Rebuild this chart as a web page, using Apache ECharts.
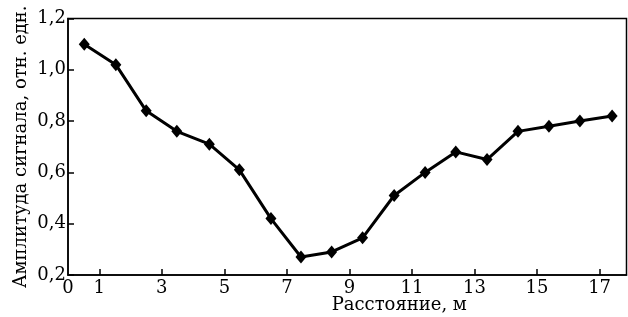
<!DOCTYPE html>
<html>
<head>
<meta charset="utf-8">
<script src="https://cdn.jsdelivr.net/npm/echarts@6/dist/echarts.min.js"></script>
<style>
  html, body { margin: 0; padding: 0; background: #fff; }
  #chart { width: 628px; height: 317px; }
</style>
</head>
<body>
<div id="chart"></div>
<script>
// distance, m
const distance = [0.52, 1.53, 2.5, 3.48, 4.52, 5.48, 6.49, 7.45, 8.43, 9.42,
  10.43, 11.42, 12.4, 13.4, 14.39, 15.38, 16.37, 17.4];
// signal amplitude, rel. units
const amplitude = [1.10, 1.02, 0.84, 0.76, 0.71, 0.61, 0.42, 0.27, 0.29, 0.345,
  0.51, 0.60, 0.68, 0.65, 0.76, 0.78, 0.80, 0.82];
const xLabelValues = [0, 1, 3, 5, 7, 9, 11, 13, 15, 17];
const xTickValues = [1, 3, 5, 7, 9, 11, 13, 15, 17];

const font = "DejaVu Serif";
const chart = echarts.init(document.getElementById("chart"));

chart.setOption({
  animation: false,
  grid: {
    left: 68,
    right: 1.5,
    top: 18.5,
    bottom: 42,
    outerBoundsMode: "none",
    containLabel: false,
    show: true,
    borderColor: "#000",
    borderWidth: 1.5,
    backgroundColor: "transparent",
  },
  xAxis: {
    type: "value",
    min: 0,
    max: 17.86,
    interval: 1,
    name: "Расстояние, м",
    nameLocation: "middle",
    nameGap: 21,
    nameMoveOverlap: false,
    nameTextStyle: { fontFamily: font, fontSize: 18, color: "#000", padding: [0, 0, 0, 104] },
    axisLine: { show: true, lineStyle: { color: "#000", width: 1.5 } },
    axisTick: {
      show: true,
      inside: true,
      length: 6,
      customValues: xTickValues,
      lineStyle: { color: "#000", width: 1.5 },
    },
    axisLabel: {
      customValues: xLabelValues,
      fontFamily: font,
      fontSize: 18,
      color: "#000",
      margin: 4,
      hideOverlap: false,
    },
    splitLine: { show: false },
  },
  yAxis: {
    type: "value",
    min: 0.2,
    max: 1.2,
    interval: 0.2,
    name: "Амплитуда сигнала, отн. едн.",
    nameLocation: "middle",
    nameGap: 38,
    nameMoveOverlap: false,
    nameTextStyle: { fontFamily: font, fontSize: 18, color: "#000" },
    axisLine: { show: true, lineStyle: { color: "#000", width: 1.5 } },
    axisTick: { show: true, inside: true, length: 6, lineStyle: { color: "#000", width: 1.5 } },
    axisLabel: {
      fontFamily: font,
      fontSize: 18,
      color: "#000",
      margin: 2,
      formatter: (v) => v.toFixed(1).replace(".", ","),
    },
    splitLine: { show: false },
  },
  series: [
    {
      type: "line",
      data: distance.map((d, i) => [d, amplitude[i]]),
      symbol: "diamond",
      symbolSize: [11, 13],
      itemStyle: { color: "#000" },
      lineStyle: { color: "#000", width: 3 },
    },
  ],
});
</script>
</body>
</html>
